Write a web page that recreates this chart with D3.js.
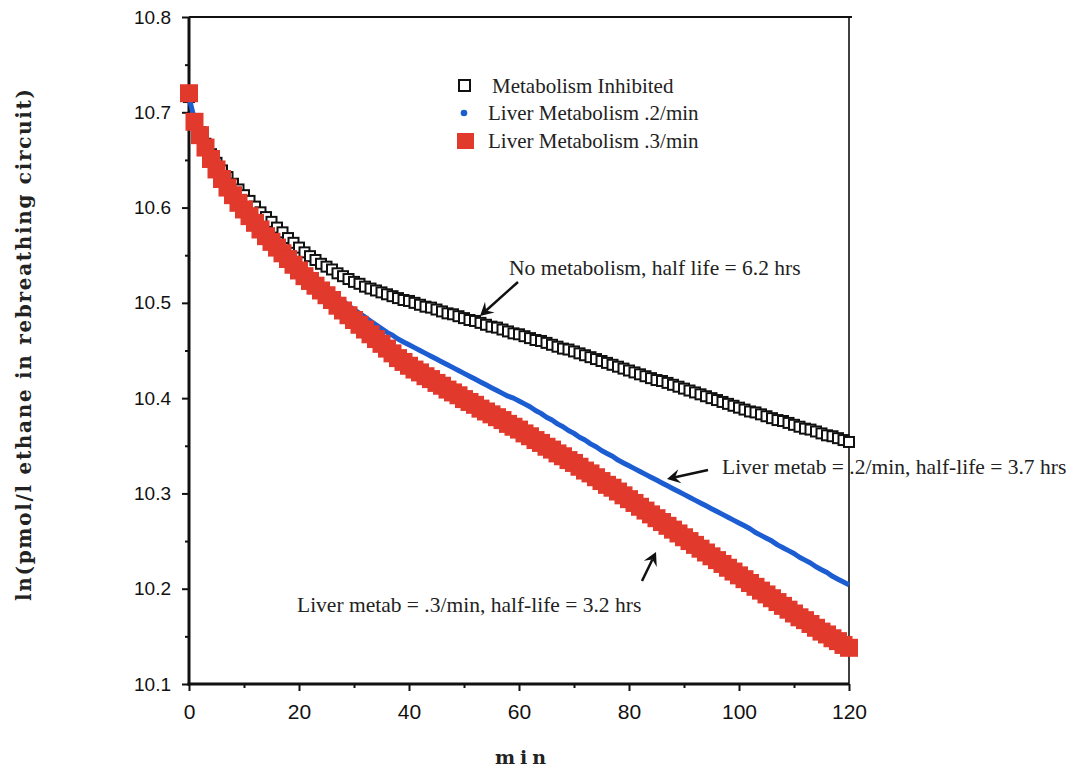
<!DOCTYPE html>
<html>
<head>
<meta charset="utf-8">
<script src="https://cdn.jsdelivr.net/npm/d3@7"></script>
<style>
  body { margin: 0; background: #fff; }
  svg { display: block; }
</style>
</head>
<body>
<svg id="chart" width="1076" height="771"></svg>
<script>
// Sampling times (min)
const minutes = d3.range(0, 121);

// ln(pmol/l ethane) with liver metabolism inhibited
const inhibited = [
  10.716,
  10.693, 10.679, 10.667, 10.656, 10.647, 10.639, 10.632, 10.625, 10.619, 10.613,
  10.607, 10.601, 10.595, 10.590, 10.585, 10.579, 10.574, 10.568, 10.563, 10.558,
  10.553, 10.549, 10.545, 10.541, 10.538, 10.535, 10.531, 10.528, 10.525, 10.522,
  10.520, 10.517, 10.515, 10.513, 10.511, 10.509, 10.507, 10.505, 10.503, 10.502,
  10.500, 10.498, 10.496, 10.495, 10.493, 10.491, 10.489, 10.488, 10.486, 10.484,
  10.482, 10.481, 10.479, 10.477, 10.475, 10.474, 10.472, 10.470, 10.468, 10.467,
  10.465, 10.463, 10.461, 10.460, 10.458, 10.456, 10.454, 10.452, 10.451, 10.449,
  10.447, 10.445, 10.443, 10.441, 10.439, 10.437, 10.435, 10.433, 10.431, 10.429,
  10.427, 10.425, 10.423, 10.421, 10.419, 10.418, 10.416, 10.414, 10.412, 10.410,
  10.408, 10.406, 10.404, 10.402, 10.400, 10.398, 10.396, 10.394, 10.392, 10.390,
  10.388, 10.386, 10.385, 10.383, 10.381, 10.379, 10.377, 10.376, 10.374, 10.372,
  10.370, 10.368, 10.367, 10.365, 10.363, 10.361, 10.360, 10.358, 10.356, 10.354
];

// Liver metabolism 0.2/min
const liver02 = [
  10.716,
  10.692, 10.678, 10.665, 10.653, 10.642, 10.632, 10.623, 10.615, 10.607, 10.600,
  10.593, 10.587, 10.580, 10.574, 10.568, 10.562, 10.556, 10.550, 10.545, 10.540,
  10.536, 10.531, 10.526, 10.521, 10.516, 10.511, 10.506, 10.502, 10.497, 10.493,
  10.489, 10.485, 10.481, 10.477, 10.473, 10.469, 10.466, 10.462, 10.459, 10.456,
  10.453, 10.450, 10.447, 10.444, 10.441, 10.438, 10.435, 10.432, 10.429, 10.426,
  10.423, 10.420, 10.417, 10.414, 10.411, 10.408, 10.405, 10.402, 10.400, 10.397,
  10.394, 10.391, 10.387, 10.384, 10.380, 10.377, 10.373, 10.370, 10.366, 10.363,
  10.359, 10.356, 10.352, 10.349, 10.345, 10.342, 10.339, 10.335, 10.332, 10.329,
  10.326, 10.323, 10.320, 10.317, 10.314, 10.311, 10.308, 10.305, 10.302, 10.299,
  10.296, 10.293, 10.290, 10.287, 10.284, 10.281, 10.278, 10.275, 10.272, 10.269,
  10.266, 10.263, 10.259, 10.256, 10.253, 10.250, 10.246, 10.243, 10.240, 10.237,
  10.233, 10.230, 10.227, 10.223, 10.220, 10.217, 10.213, 10.210, 10.207, 10.204
];

// Liver metabolism 0.3/min
const liver03 = [
  10.720,
  10.690, 10.676, 10.663, 10.651, 10.640, 10.630, 10.621, 10.613, 10.605, 10.598,
  10.591, 10.584, 10.577, 10.570, 10.564, 10.558, 10.552, 10.546, 10.540, 10.534,
  10.528, 10.523, 10.518, 10.513, 10.508, 10.503, 10.497, 10.492, 10.487, 10.482,
  10.477, 10.472, 10.467, 10.462, 10.457, 10.452, 10.447, 10.442, 10.438, 10.434,
  10.430, 10.427, 10.423, 10.420, 10.416, 10.413, 10.409, 10.406, 10.403, 10.399,
  10.396, 10.393, 10.389, 10.386, 10.383, 10.380, 10.377, 10.373, 10.370, 10.367,
  10.363, 10.360, 10.356, 10.353, 10.349, 10.346, 10.342, 10.339, 10.335, 10.332,
  10.328, 10.324, 10.321, 10.317, 10.313, 10.309, 10.306, 10.302, 10.298, 10.294,
  10.290, 10.286, 10.282, 10.278, 10.274, 10.270, 10.266, 10.262, 10.258, 10.254,
  10.250, 10.246, 10.242, 10.238, 10.234, 10.230, 10.226, 10.222, 10.218, 10.214,
  10.210, 10.206, 10.202, 10.198, 10.194, 10.190, 10.186, 10.182, 10.178, 10.174,
  10.170, 10.167, 10.163, 10.159, 10.155, 10.152, 10.148, 10.145, 10.141, 10.138
];

const xTicks = [0, 20, 40, 60, 80, 100, 120];
const xMinorTicks = [10, 30, 50, 70, 90, 110];
const yTicks = [10.1, 10.2, 10.3, 10.4, 10.5, 10.6, 10.7, 10.8];
const yMinorTicks = [10.15, 10.25, 10.35, 10.45, 10.55, 10.65, 10.75];

const legendLabels = ["Metabolism Inhibited", "Liver Metabolism .2/min", "Liver Metabolism .3/min"];
const notes = [
  "No metabolism, half life = 6.2 hrs",
  "Liver metab = .2/min, half-life = 3.7 hrs",
  "Liver metab = .3/min, half-life = 3.2 hrs"
];

const RED = "#e2392d", BLUE = "#1c5dd2";

const svg = d3.select("#chart");
const x = d3.scaleLinear().domain([0, 120]).range([189, 849]);
const y = d3.scaleLinear().domain([10.1, 10.8]).range([684, 17]);

const tickFont = "'Liberation Sans', Arial, sans-serif";
const serif = "'Liberation Serif', 'Times New Roman', serif";

// frame (top and right)
svg.append("line").attr("x1", x(0)).attr("x2", x(120) + 3).attr("y1", y(10.8)).attr("y2", y(10.8))
  .attr("stroke", "#111").attr("stroke-width", 2);
svg.append("line").attr("x1", x(120)).attr("x2", x(120)).attr("y1", y(10.8)).attr("y2", y(10.1))
  .attr("stroke", "#111").attr("stroke-width", 1.6);

// axes
function styleAxis(g, size) {
  g.select(".domain").remove();
  g.selectAll(".tick line").attr("stroke", "#111").attr("stroke-width", 2);
  g.selectAll(".tick text").attr("font-family", tickFont).attr("font-size", size).attr("fill", "#111");
}

const yAxis = svg.append("g").attr("transform", `translate(${x(0)},0)`)
  .call(d3.axisLeft(y).tickValues(yTicks).tickSize(7).tickPadding(11).tickFormat(d3.format(".1f")));
styleAxis(yAxis, 19);
const yMinor = svg.append("g").attr("transform", `translate(${x(0)},0)`)
  .call(d3.axisLeft(y).tickValues(yMinorTicks).tickSize(4).tickFormat(""));
styleAxis(yMinor, 19);

const xAxis = svg.append("g").attr("transform", `translate(0,${y(10.1)})`)
  .call(d3.axisBottom(x).tickValues(xTicks).tickSize(7).tickPadding(13).tickFormat(d3.format("d")));
styleAxis(xAxis, 21);
const xMinor = svg.append("g").attr("transform", `translate(0,${y(10.1)})`)
  .call(d3.axisBottom(x).tickValues(xMinorTicks).tickSize(4).tickFormat(""));
styleAxis(xMinor, 21);

// axis lines
svg.append("line").attr("x1", x(0)).attr("x2", x(0)).attr("y1", y(10.8)).attr("y2", y(10.1) + 1.5)
  .attr("stroke", "#111").attr("stroke-width", 3);
svg.append("line").attr("x1", x(0) - 1.5).attr("x2", x(120)).attr("y1", y(10.1)).attr("y2", y(10.1))
  .attr("stroke", "#111").attr("stroke-width", 3);

// series: inhibited (open squares), 0.2/min (blue trace), 0.3/min (red squares)
const sq = 10;
svg.append("g").selectAll("rect").data(minutes).join("rect")
  .attr("x", (d) => x(d) - sq / 2).attr("y", (d, i) => y(inhibited[i]) - sq / 2)
  .attr("width", sq).attr("height", sq)
  .attr("fill", "#fff").attr("stroke", "#111").attr("stroke-width", 2);

svg.append("path").datum(minutes)
  .attr("d", d3.line().x((d) => x(d)).y((d, i) => y(liver02[i])))
  .attr("fill", "none").attr("stroke", BLUE).attr("stroke-width", 5).attr("stroke-linejoin", "round");

const rs = 18;
svg.append("g").selectAll("rect").data(minutes).join("rect")
  .attr("x", (d) => x(d) - rs / 2).attr("y", (d, i) => y(liver03[i]) - rs / 2)
  .attr("width", rs).attr("height", rs).attr("fill", RED);

// legend
const lg = svg.append("g").attr("font-family", serif).attr("font-size", 21).attr("fill", "#222");
lg.append("rect").attr("x", 459).attr("y", 80).attr("width", 11).attr("height", 11)
  .attr("fill", "#fff").attr("stroke", "#111").attr("stroke-width", 2);
lg.append("text").attr("x", 492).attr("y", 93).text(legendLabels[0]);
lg.append("circle").attr("cx", 464).attr("cy", 113).attr("r", 3.3).attr("fill", BLUE);
lg.append("text").attr("x", 488).attr("y", 120).text(legendLabels[1]);
lg.append("rect").attr("x", 457).attr("y", 133).attr("width", 17).attr("height", 16).attr("fill", RED);
lg.append("text").attr("x", 488).attr("y", 148).text(legendLabels[2]);

// annotations with arrows
const ann = svg.append("g").attr("font-family", serif).attr("font-size", 21.5).attr("fill", "#222");
ann.append("text").attr("x", 509).attr("y", 275).text(notes[0]);
ann.append("text").attr("x", 722).attr("y", 474).text(notes[1]);
ann.append("text").attr("x", 297).attr("y", 612).text(notes[2]);

function arrow(x1, y1, x2, y2) {
  const a = Math.atan2(y2 - y1, x2 - x1), L = 15, w = 0.5;
  const p1 = [x2 - L * Math.cos(a - w), y2 - L * Math.sin(a - w)];
  const p2 = [x2 - L * Math.cos(a + w), y2 - L * Math.sin(a + w)];
  const c = [x2 - 0.55 * L * Math.cos(a), y2 - 0.55 * L * Math.sin(a)];
  svg.append("line").attr("x1", x1).attr("y1", y1).attr("x2", c[0]).attr("y2", c[1])
    .attr("stroke", "#111").attr("stroke-width", 2.5);
  svg.append("path").attr("d", `M${x2},${y2}L${p1[0]},${p1[1]}L${c[0]},${c[1]}L${p2[0]},${p2[1]}Z`)
    .attr("fill", "#111");
}
arrow(518, 282, 480, 316);
arrow(708, 470, 667, 479);
arrow(642, 581, 656, 552);

// axis titles
svg.append("text").attr("x", 523).attr("y", 764).attr("text-anchor", "middle")
  .attr("font-family", "'DejaVu Serif', serif").attr("font-weight", "bold").attr("font-size", 19)
  .attr("letter-spacing", 5).attr("fill", "#222").text("min");
svg.append("text").attr("transform", "translate(31,345) rotate(-90)").attr("text-anchor", "middle")
  .attr("font-family", "'DejaVu Serif', serif").attr("font-weight", "bold").attr("font-size", 20)
  .attr("textLength", 512).attr("lengthAdjust", "spacing")
  .attr("fill", "#222").text("ln(pmol/l ethane in rebreathing circuit)");
</script>
</body>
</html>
